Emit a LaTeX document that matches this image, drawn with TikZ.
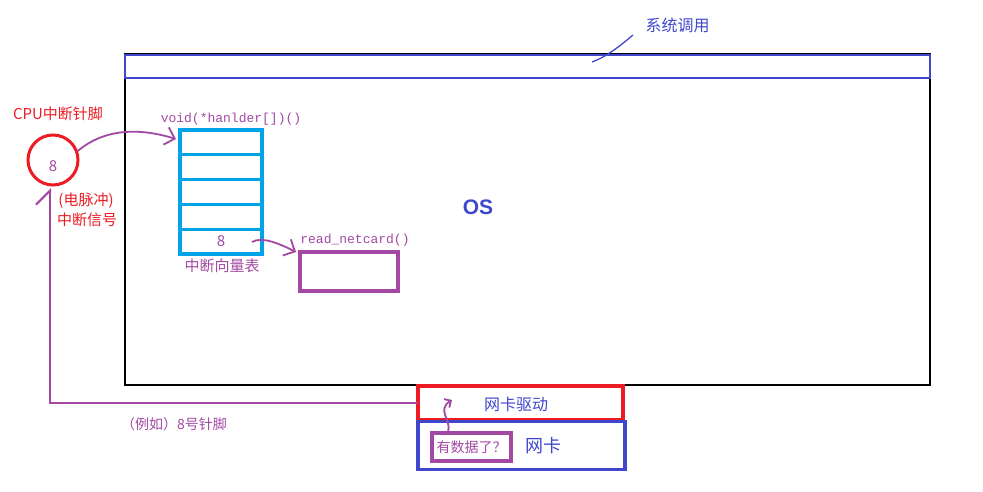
\documentclass[tikz,border=0pt]{standalone}
\usepackage{fontspec}
\setmainfont{Noto Sans CJK SC}
\newfontfamily\cjk{Noto Sans CJK SC}
\newfontfamily\mono{Liberation Mono}
\newfontfamily\lsans{Liberation Sans}
\usetikzlibrary{arrows.meta}
\definecolor{cpurple}{HTML}{A349A4}
\definecolor{cred}{HTML}{ED1C24}
\definecolor{cblue}{HTML}{3F48CC}
\definecolor{ccyan}{HTML}{00A2E8}
\newcommand{\fs}[1]{\fontsize{#1}{#1}\selectfont}
\begin{document}
\begin{tikzpicture}[x=1pt,y=-1pt,
  box/.style={draw,inner sep=0pt,outer sep=0pt,rectangle},
  row/.style={box,draw=ccyan,line width=3.2pt,minimum width=82pt,minimum height=24.8pt,font=\cjk\fs{15},text=cpurple},
  ptext/.style={inner sep=0pt,text=cpurple,font=\cjk\fs{15}},
  rtext/.style={inner sep=0pt,text=cred,font=\cjk\fs{15}},
  btext/.style={inner sep=0pt,text=cblue,font=\cjk\fs{16}},
  mtext/.style={inner sep=0pt,text=cpurple,font=\mono\fs{13}},
  parrow/.style={draw=cpurple,line width=1.8pt,-{Straight Barb[length=9pt,width=18pt,line width=1.8pt]}},
]
\useasboundingbox[fill=white] (0,0) rectangle (983,492);

% OS box and syscall bar
\node[box,draw=black,line width=1.6pt,minimum width=805pt,minimum height=331pt] (os) at (527.5,219.5) {};
\node[box,draw=cblue,line width=2.8pt,minimum width=805pt,minimum height=23pt] (sys) at (527.5,66.5) {};
\node[btext] (syslbl) at (677.5,25) {系统调用};
\coordinate (sysa) at (592,62);
\coordinate (sysb) at (633,35);
\draw[cblue,line width=1.3pt] (sysa) .. controls (606,57) and (620,46) .. (sysb);

\node[inner sep=0pt,text=cblue,font=\lsans\bfseries\fs{21}] (oslbl) at (478,207) {OS};

% CPU pin
\node[rtext] (cpulbl) at (58,114) {CPU中断针脚};
\node[circle,draw=cred,line width=3pt,minimum size=50pt,inner sep=0pt] (pin) at (53,160) {};
\node[ptext] (pin8) at (53,166) {8};
\node[rtext] (pulse) at (86,201) {(电脉冲)};
\node[rtext] (sig) at (87,220) {中断信号};

% vector table
\node[mtext] (hlbl) at (231,119) {void(*hanlder[])()};
\node[row] (r1) at (221,142.4) {};
\node[row] (r2) at (221,167.2) {};
\node[row] (r3) at (221,192) {};
\node[row] (r4) at (221,216.8) {};
\node[row] (r5) at (221,241.6) {8};
\node[ptext] (vtlbl) at (222,266) {中断向量表};

\coordinate (t1) at (176,139);
\draw[parrow] (pin.20) .. controls (105,128) and (140,128) .. (t1);

% read_netcard
\node[mtext] (nlbl) at (355,240) {read\_netcard()};
\node[box,draw=cpurple,line width=3.2pt,minimum width=98pt,minimum height=39pt] (net) at (349,271.5) {};
\coordinate (r5a) at (252,242);
\coordinate (neta) at (296,252);
\draw[parrow] (r5a) .. controls (262,236) and (280,244) .. (neta);

% NIC driver and NIC
\node[box,draw=cred,line width=3.2pt,minimum width=205pt,minimum height=34pt] (drv) at (520.5,403) {};
\node[btext] (drvlbl) at (516,404) {网卡驱动};
\node[box,draw=cblue,line width=3.2pt,minimum width=207pt,minimum height=48pt] (card) at (521.5,445.5) {};
\node[inner sep=0pt,text=cblue,font=\cjk\fs{18}] (cardlbl) at (543,446) {网卡};
\node[box,draw=cpurple,line width=3.2pt,minimum width=79pt,minimum height=28pt,text=cpurple,font=\cjk\fs{14}] (data) at (471.5,447) {有数据了？};
\coordinate (da) at (448,432);
\coordinate (db) at (452,400);
\draw[draw=cpurple,line width=1.8pt,-{Straight Barb[length=5pt,width=10pt,line width=1.8pt]}] (da) .. controls (452,420) and (436,410) .. (db);

% interrupt line
\coordinate (fb) at (50,188);
\draw[draw=cpurple,line width=2.2pt,-{Straight Barb[harpoon,length=14pt,width=28pt,line width=2.2pt]}] (drv.west) -| (fb);
\node[ptext,font=\cjk\fs{14}] (eg) at (174,424) {（例如）8号针脚};
\end{tikzpicture}
\end{document}
